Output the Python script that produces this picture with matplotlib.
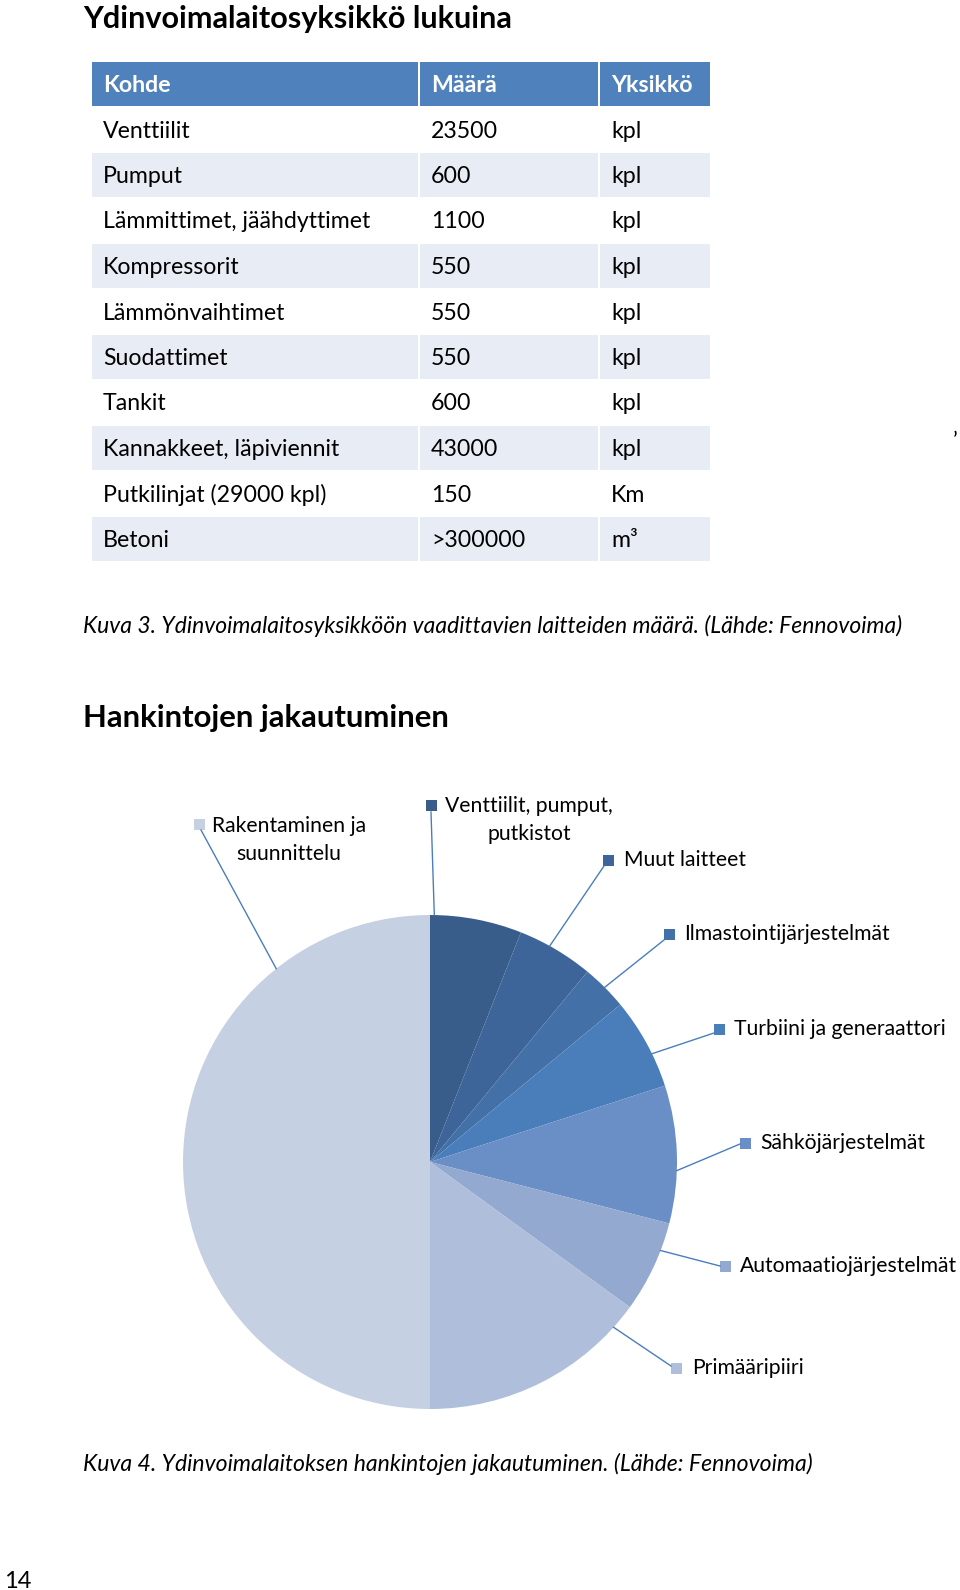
import matplotlib
matplotlib.use('Agg')
import numpy as np
import matplotlib.pyplot as plt
import matplotlib.patches as mpatches
from matplotlib import font_manager

# Table data
table_header = ["Kohde", "Määrä", "Yksikkö"]
table_items = ["Venttiilit", "Pumput", "Lämmittimet, jäähdyttimet", "Kompressorit",
               "Lämmönvaihtimet", "Suodattimet", "Tankit", "Kannakkeet, läpiviennit",
               "Putkilinjat (29000 kpl)", "Betoni"]
table_amounts = ["23500", "600", "1100", "550", "550", "550", "600", "43000", "150", ">300000"]
table_units = ["kpl", "kpl", "kpl", "kpl", "kpl", "kpl", "kpl", "kpl", "Km", "m³"]

# Pie data (share of procurement, %)
pie_labels = ["Venttiilit, pumput,\nputkistot", "Muut laitteet", "Ilmastointijärjestelmät",
              "Turbiini ja generaattori", "Sähköjärjestelmät", "Automaatiojärjestelmät",
              "Primääripiiri", "Rakentaminen ja\nsuunnittelu"]
pie_shares = [6, 5, 3, 6, 9, 6, 15, 50]
pie_colors = ["#385D8A", "#3D6599", "#4470A8", "#4A7EBB", "#6A8EC6", "#93A9CF", "#AEBEDB", "#C6D0E3"]

# fonts
names = {f.name for f in font_manager.fontManager.ttflist}
body = 'Lato'
narrow = 'Liberation Sans Narrow' if 'Liberation Sans Narrow' in names else 'Lato'

fig = plt.figure(figsize=(9.6, 15.9), dpi=100)
ax = fig.add_axes([0, 0, 1, 1])
ax.set_xlim(0, 960)
ax.set_ylim(1590, 0)
ax.axis('off')

# Title
ax.text(83, 28, "Ydinvoimalaitosyksikkö lukuina", fontsize=22.1, fontweight='bold',
        family=body, va='baseline')

# Table
col_x = [(92, 418), (420, 598), (600, 710)]
row_h = 45.5
row0 = 84
header_blue = "#4F81BD"
band = "#E8ECF4"
for c, (x0, x1) in enumerate(col_x):
    ax.add_patch(mpatches.Rectangle((x0, row0 - row_h/2 + 1), x1 - x0, row_h - 2,
                                    color=header_blue, lw=0))
    ax.text(x0 + 11, row0 + 8, table_header[c], color='white', fontweight='bold',
            fontsize=16.7, family=body, va='baseline')
for i in range(len(table_items)):
    yc = row0 + (i + 1) * row_h
    if i % 2 == 1:
        for x0, x1 in col_x:
            ax.add_patch(mpatches.Rectangle((x0, yc - row_h/2 + 1), x1 - x0, row_h - 2,
                                            color=band, lw=0))
    for (x0, x1), val in zip(col_x, [table_items[i], table_amounts[i], table_units[i]]):
        ax.text(x0 + 11, yc + 8, val, fontsize=16.7, family=body, va='baseline')

ax.text(83, 626, "Kuva 3. Ydinvoimalaitosyksikköön vaadittavien laitteiden määrä. (Lähde: Fennovoima)",
        fontsize=16.5, style='italic', family=narrow, va='center')
ax.text(955, 441, "’", fontsize=16, family=body, va='center', ha='center')

# Pie section
ax.text(83, 727, "Hankintojen jakautuminen", fontsize=22.3, fontweight='bold',
        family=body, va='baseline')

cx, cy, r = 430, 1162, 247
ax.pie(pie_shares, colors=pie_colors, center=(cx, cy), radius=r,
       startangle=-90, counterclock=True, wedgeprops=dict(linewidth=0))
ax.set_xlim(0, 960)
ax.set_ylim(1590, 0)
ax.set_aspect('auto')

# label layout: marker centre, text anchor, leader end near marker, edge angle (deg clockwise from top)
marker_pos = [(431, 805), (608, 860), (669, 934), (719, 1029), (745, 1143), (725, 1266), (676, 1368), (199, 824)]
text_pos = [(529, 820), (624, 860), (684, 934), (734, 1029), (760, 1143), (740, 1266), (692, 1368), (289, 840)]
text_ha = ['center', 'left', 'left', 'left', 'left', 'left', 'left', 'center']
line_end = [(431, 812), (604, 866), (664, 940), (714, 1033), (740, 1144), (720, 1266), (671, 1366), (201, 830)]
edge_ang = [1, 29, 45, 64, 92, 111, 132, 321.5]

for lab, col, (mx, my), (tx, ty), ha, (lx, ly), a in zip(pie_labels, pie_colors, marker_pos,
                                                          text_pos, text_ha, line_end, edge_ang):
    ex = cx + r * np.sin(np.radians(a))
    ey = cy - r * np.cos(np.radians(a))
    ax.plot([ex, lx], [ey, ly], color="#4A7EBB", lw=1)
    ax.add_patch(mpatches.Rectangle((mx - 5.5, my - 5.5), 11, 11, color=col, lw=0))
    ax.text(tx, ty, lab, fontsize=15.2, family=body, ha=ha, va='center',
            multialignment='center', linespacing=1.55)

ax.text(83, 1464, "Kuva 4. Ydinvoimalaitoksen hankintojen jakautuminen. (Lähde: Fennovoima)",
        fontsize=16.6, style='italic', family=narrow, va='center')
ax.text(4, 1581, "14", fontsize=17, family=narrow, va='center')

fig.savefig('out.png', dpi=100, facecolor='white')
